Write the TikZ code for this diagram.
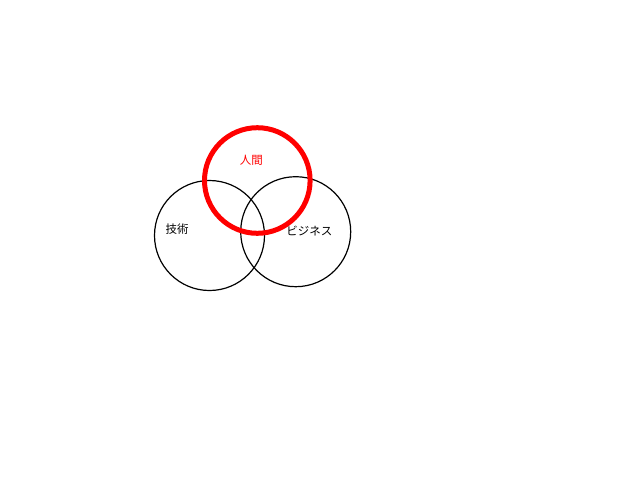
\documentclass[tikz,border=0pt]{standalone}
\usepackage{fontspec}
\newfontfamily\cjk{Noto Sans CJK JP}
\begin{document}
\begin{tikzpicture}[x=1pt,y=-1pt,
  ring/.style={draw=black,line width=1.2pt},
  redring/.style={draw=red,line width=5pt},
  lbl/.style={font=\cjk\fontsize{11.5}{13}\selectfont,inner sep=0pt}]
\useasboundingbox (0,0) rectangle (640,480);
\node[ring,circle,minimum size=110pt,inner sep=0pt] (tech) at (209.5,235.5) {};
\node[ring,circle,minimum size=110pt,inner sep=0pt] (biz) at (295.7,231.7) {};
\node[redring,circle,minimum size=105.6pt,inner sep=0pt] (human) at (257.3,180.5) {};
\node[lbl] (techl) at (177.2,229.5) {技術};
\node[lbl] (bizl) at (309.3,231) {ビジネス};
\node[lbl,text=red] (humanl) at (251.3,160) {人間};
\end{tikzpicture}
\end{document}
